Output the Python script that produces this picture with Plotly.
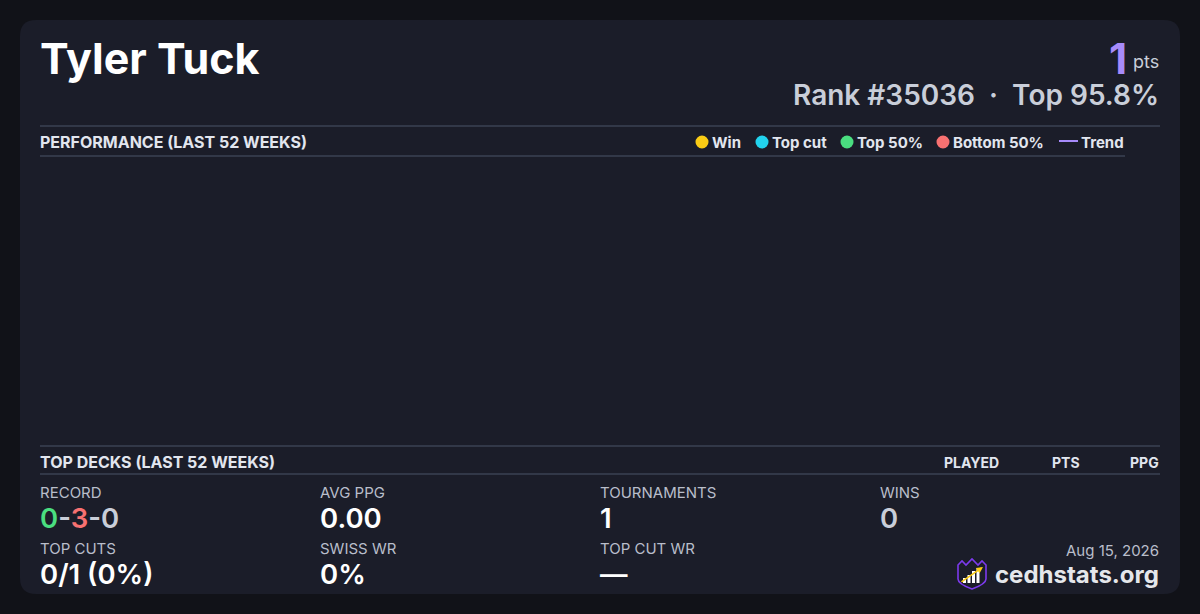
import plotly.graph_objects as go

# player card data
player_name = "Tyler Tuck"
points = 1
rank = 35036
top_pct = 95.8
report_date = "Aug 15, 2026"
site = "cedhstats.org"

# performance chart (no weekly results in the last 52 weeks)
perf_weeks = []
perf_points = []

legend_labels = ["Win", "Top cut", "Top 50%", "Bottom 50%", "Trend"]
legend_colors = ["#facc15", "#22d3ee", "#4ade80", "#f87171", "#a78bfa"]

deck_columns = ["PLAYED", "PTS", "PPG"]

record = [0, 3, 0]
stat_labels = ["RECORD", "AVG PPG", "TOURNAMENTS", "WINS",
               "TOP CUTS", "SWISS WR", "TOP CUT WR"]
stat_values = [None, "0.00", "1", "0", "0/1 (0%)", "0%", "—"]

BG = "#111218"
CARD = "#1b1d29"
RULE = "#4a5569"
HEAD = "#e2e6ef"
LABEL = "#b9becb"
MUTED = "#c9ced9"
FONT = "Inter"

fig = go.Figure()

# empty performance plot area
fig.add_trace(go.Scatter(x=perf_weeks, y=perf_points, mode="markers+lines",
                         xaxis="x2", yaxis="y2", showlegend=False,
                         line=dict(color=legend_colors[-1])))

shapes = []
annotations = []

# card
shapes.append(dict(type="path", xref="x", yref="y",
                   path="M 36,20 L 1164,20 Q 1180,20 1180,36 L 1180,578 Q 1180,594 1164,594 "
                        "L 36,594 Q 20,594 20,578 L 20,36 Q 20,20 36,20 Z",
                   fillcolor=CARD, line=dict(width=0), layer="below"))

# rules
for y0, x1 in [(126, 1160), (156, 1125), (446, 1160), (474, 1160)]:
    shapes.append(dict(type="line", xref="x", yref="y", x0=40, x1=x1, y0=y0, y1=y0,
                       line=dict(color=RULE, width=1)))


def txt(x, y, text, size, color, weight=400, anchor="left"):
    annotations.append(dict(x=x, y=y, xref="x", yref="y", text=text, showarrow=False,
                            xanchor=anchor, yanchor="middle",
                            font=dict(family=FONT, size=size, color=color, weight=weight)))


# header
txt(38, 58, player_name, 43, "#ffffff", 700)
txt(1129, 58, str(points), 42, "#a78bfa", 700, "right")
txt(1161, 61, "pts", 18, MUTED, 400, "right")
txt(1161, 95, f"Rank #{rank}  ·  Top {top_pct}%", 28, MUTED, 600, "right")

# performance header + legend
txt(38, 142, "PERFORMANCE (LAST 52 WEEKS)", 16, HEAD, 700)
legend_x = [702, 762, 847, 943, 1059]
for lx, lab, col in zip(legend_x, legend_labels, legend_colors):
    if lab == "Trend":
        shapes.append(dict(type="line", xref="x", yref="y", x0=lx, x1=lx + 19, y0=141, y1=141,
                           line=dict(color=col, width=2)))
        txt(lx + 20, 142, lab, 15, HEAD, 700)
    else:
        shapes.append(dict(type="circle", xref="x", yref="y", x0=lx - 6.5, x1=lx + 6.5,
                           y0=135.5, y1=148.5, fillcolor=col, line=dict(width=0)))
        txt(lx + 8, 142, lab, 15, HEAD, 700)

# top decks header
txt(38, 462, "TOP DECKS (LAST 52 WEEKS)", 16, HEAD, 700)
for cx, col in zip([1001, 1082, 1161], deck_columns):
    txt(cx, 462, col, 14, HEAD, 700, "right")

# stats grid
rec_txt = (f"<span style='color:#4ade80'>{record[0]}</span>-"
           f"<span style='color:#f87171'>{record[1]}</span>-{record[2]}")
col_x = [38, 318, 598, 878]
for i, (lab, val) in enumerate(zip(stat_labels, stat_values)):
    r, c = divmod(i, 4)
    x = col_x[c]
    txt(x, 492 + r * 56, lab, 15, LABEL, 400)
    if val is None:
        txt(x, 518 + r * 56, rec_txt, 27.5, MUTED, 600)
    else:
        color = MUTED if (lab == "WINS" and val == "0") else "#ffffff"
        txt(x, 518 + r * 56, val, 27.5, color, 600)

# footer
txt(1161, 550, report_date, 15, LABEL, 400, "right")
txt(1161, 574, site, 24, "#e5e7eb", 700, "right")

# logo
shapes.append(dict(type="path", xref="x", yref="y",
                   path="M 958,565 L 962,561 L 966,565 L 972,559 L 978,565 L 982,561 L 986,565 "
                        "L 986,579 Q 986,584 972,589 Q 958,584 958,579 Z",
                   fillcolor=CARD, line=dict(color="#7c3aed", width=1.6)))
for bx, top in [(963, 578), (967.5, 575), (972, 571), (976.5, 568)]:
    shapes.append(dict(type="rect", xref="x", yref="y", x0=bx, x1=bx + 3, y0=top, y1=583,
                       fillcolor="#ffffff", line=dict(width=0)))
annotations.append(dict(x=983, y=567, ax=960, ay=583, xref="x", yref="y", axref="x", ayref="y",
                        text="", showarrow=True, arrowhead=2, arrowsize=0.8, arrowwidth=1.6,
                        arrowcolor="#facc15"))

fig.update_layout(
    width=1200, height=614,
    margin=dict(l=0, r=0, t=0, b=0),
    paper_bgcolor=BG, plot_bgcolor="rgba(0,0,0,0)",
    xaxis=dict(range=[0, 1200], visible=False, fixedrange=True),
    yaxis=dict(range=[614, 0], visible=False, fixedrange=True),
    xaxis2=dict(domain=[40 / 1200, 1125 / 1200], anchor="y2", visible=False),
    yaxis2=dict(domain=[1 - 445 / 614, 1 - 157 / 614], anchor="x2", visible=False),
    shapes=shapes, annotations=annotations,
    showlegend=False,
)

fig.write_html("out.html", config={"displayModeBar": False},
               post_script="document.body.style.margin='0';"
                           "document.body.style.background='" + BG + "';")
